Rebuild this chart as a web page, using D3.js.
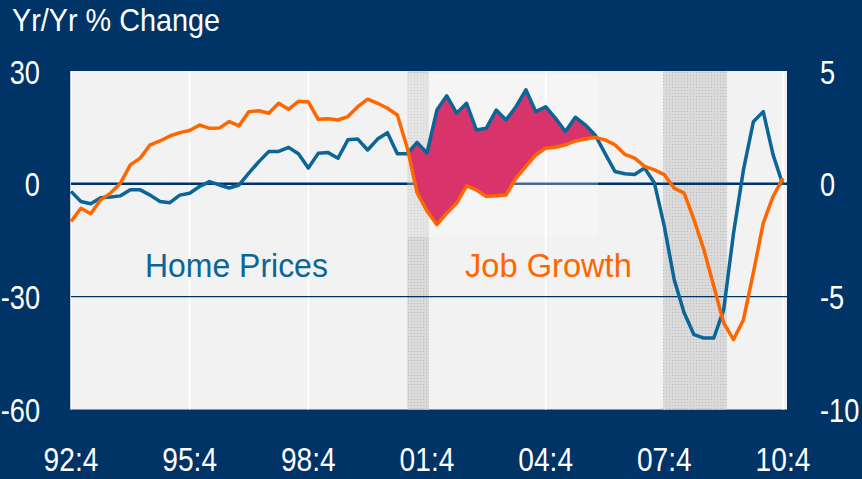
<!DOCTYPE html>
<html>
<head>
<meta charset="utf-8"/>
<title>Home Prices vs Job Growth</title>
<script src="https://d3js.org/d3.v7.min.js"></script>
<style>
  body { margin: 0; background: #003366; }
  svg { display: block; }
  text { font-family: "Liberation Sans", Arial, sans-serif; }
</style>
</head>
<body>
<svg width="862" height="479"></svg>
<script>
// quarterly series, starting 1992 Q4
var startYear = 1992, startQuarter = 4;

// home prices, yr/yr % change (left axis)
var homePrices = [
  -2, -4.7, -5.3, -3.7, -3.5, -3.2, -1.6, -1.6, -3, -4.7,
  -5, -3, -2.5, -0.7, 0.6, -0.3, -1.1, -0.3, 2.9, 5.9,
  8.6, 8.6, 9.7, 8, 4.2, 8.1, 8.3, 6.8, 11.7, 11.9,
  9, 11.9, 13.6, 8, 8, 11, 8.2, 19.6, 23.4, 18.8,
  21.4, 14.3, 14.8, 19.6, 17, 20.5, 25, 19.2, 20.5, 17.4,
  13.9, 17.7, 15.7, 13, 8.1, 3.3, 2.7, 2.5, 4.2, 0.2,
  -11.3, -25.5, -34.3, -40.1, -41, -41, -33.5, -13.1, 3.7, 16.5,
  19.2, 7.7, -0.3
];

// job growth, yr/yr % change (right axis)
var jobGrowth = [
  -1.67, -1.08, -1.33, -0.71, -0.41, 0.03, 0.84, 1.14, 1.73, 1.9,
  2.12, 2.27, 2.36, 2.61, 2.46, 2.47, 2.76, 2.57, 3.2, 3.24,
  3.13, 3.57, 3.3, 3.66, 3.63, 2.86, 2.88, 2.83, 2.98, 3.42,
  3.75, 3.57, 3.35, 3.05, 1.6, -0.4, -1.2, -1.81, -1.3, -0.85,
  -0.09, -0.27, -0.56, -0.53, -0.49, 0.25, 0.77, 1.28, 1.58, 1.62,
  1.73, 1.9, 1.99, 2.06, 1.95, 1.73, 1.31, 1.14, 0.77, 0.62,
  0.4, -0.19, -0.41, -1.59, -2.92, -4.54, -6.16, -6.9, -6.02, -3.95,
  -1.74, -0.56, 0.25
];

// shaded quarters where home prices outpaced jobs (index range)
var gapStart = 34, gapEnd = 53;

// recessions, in decimal years
var recessions = [[2001.25, 2001.8], [2007.72, 2009.33]];

var xTickLabels = ["92:4", "95:4", "98:4", "01:4", "04:4", "07:4", "10:4"];
var leftTicks = [30, 0, -30, -60];
var rightTicks = [5, 0, -5, -10];

var navy = "#003366", blue = "#0b6597", orange = "#ff6600", pink = "#d8336a";

function qTime(i) {
  return startYear + (startQuarter - 1) / 4 + i * 0.25;
}
function labelTime(s) {
  var p = s.split(":");
  var yy = +p[0];
  return (yy > 50 ? 1900 : 2000) + yy + (+p[1] - 1) / 4;
}

var plot = {left: 71, right: 787, top: 71, bottom: 409.5};

var svg = d3.select("svg");

var x = d3.scaleLinear().domain([labelTime("92:4"), labelTime("10:4")]).range([71, 783]);
var yL = d3.scaleLinear().domain([-60, 30]).range([plot.bottom, plot.top]);
var yR = d3.scaleLinear().domain([-10, 5]).range([plot.bottom, plot.top]);

// dotted pattern for recession bars
var defs = svg.append("defs");
var pat = defs.append("pattern").attr("id", "dots")
  .attr("width", 3).attr("height", 3).attr("patternUnits", "userSpaceOnUse");
pat.append("rect").attr("width", 3).attr("height", 3).attr("fill", "#dadada");
pat.append("rect").attr("width", 1).attr("height", 1).attr("fill", "#bdbdbd");

svg.append("rect")
  .attr("x", plot.left).attr("y", plot.top)
  .attr("width", plot.right - plot.left).attr("height", plot.bottom - plot.top)
  .attr("fill", "#f2f2f2");

// vertical grid
svg.append("g").selectAll("line")
  .data(xTickLabels)
  .enter().append("line")
  .attr("x1", function(d) { return x(labelTime(d)); })
  .attr("x2", function(d) { return x(labelTime(d)); })
  .attr("y1", plot.top).attr("y2", plot.bottom)
  .attr("stroke", "#ffffff").attr("stroke-width", 1.5);

// recession bars
svg.append("g").selectAll("rect")
  .data(recessions)
  .enter().append("rect")
  .attr("x", function(d) { return x(d[0]); })
  .attr("width", function(d) { return x(d[1]) - x(d[0]); })
  .attr("y", plot.top).attr("height", plot.bottom - plot.top)
  .attr("fill", "url(#dots)");

// -30 line and zero line
svg.append("line")
  .attr("x1", plot.left).attr("x2", plot.right)
  .attr("y1", yL(-30)).attr("y2", yL(-30))
  .attr("stroke", navy).attr("stroke-width", 1.2);
svg.append("line")
  .attr("x1", plot.left).attr("x2", plot.right)
  .attr("y1", yL(0)).attr("y2", yL(0))
  .attr("stroke", navy).attr("stroke-width", 2.5);

// faint pasted panel behind the gap
svg.append("rect")
  .attr("x", x(qTime(gapStart))).attr("y", 74)
  .attr("width", x(qTime(gapEnd + 0.3)) - x(qTime(gapStart)))
  .attr("height", 163)
  .attr("fill", "#ffffff").attr("opacity", 0.28);

// pink gap between the two series
var gapData = d3.range(gapStart, gapEnd + 1);
svg.append("path")
  .datum(gapData)
  .attr("fill", pink)
  .attr("d", d3.area()
    .x(function(i) { return x(qTime(i)); })
    .y0(function(i) { return yR(jobGrowth[i]); })
    .y1(function(i) { return yL(homePrices[i]); }));

var lineHome = d3.line()
  .x(function(d, i) { return x(qTime(i)); })
  .y(function(d) { return yL(d); });
var lineJobs = d3.line()
  .x(function(d, i) { return x(qTime(i)); })
  .y(function(d) { return yR(d); });

svg.append("path").datum(homePrices)
  .attr("fill", "none").attr("stroke", blue)
  .attr("stroke-width", 3.5).attr("stroke-linejoin", "round")
  .attr("d", lineHome);
svg.append("path").datum(jobGrowth)
  .attr("fill", "none").attr("stroke", orange)
  .attr("stroke-width", 3.5).attr("stroke-linejoin", "round")
  .attr("d", lineJobs);

// text helper: condensed look by squeezing horizontally
function label(tx, ty, str, size, sx, sy, anchor, color) {
  svg.append("text")
    .attr("transform", "translate(" + tx + "," + ty + ") scale(" + sx + "," + sy + ")")
    .attr("text-anchor", anchor)
    .attr("font-size", size)
    .attr("fill", color)
    .text(str);
}

label(12, 31, "Yr/Yr % Change", 32, 0.9, 1, "start", "#ffffff");

leftTicks.forEach(function(t) {
  label(40, yL(t) + 12.5, t, 34, 0.8, 1, "end", "#ffffff");
});
rightTicks.forEach(function(t) {
  label(820, yR(t) + 12.5, t, 34, 0.8, 1, "start", "#ffffff");
});
xTickLabels.forEach(function(s) {
  label(x(labelTime(s)), 471, s, 32, 0.88, 1.05, "middle", "#ffffff");
});

label(145, 277, "Home Prices", 34, 0.94, 1, "start", blue);
label(465, 277, "Job Growth", 34, 0.96, 1, "start", orange);
</script>
</body>
</html>
